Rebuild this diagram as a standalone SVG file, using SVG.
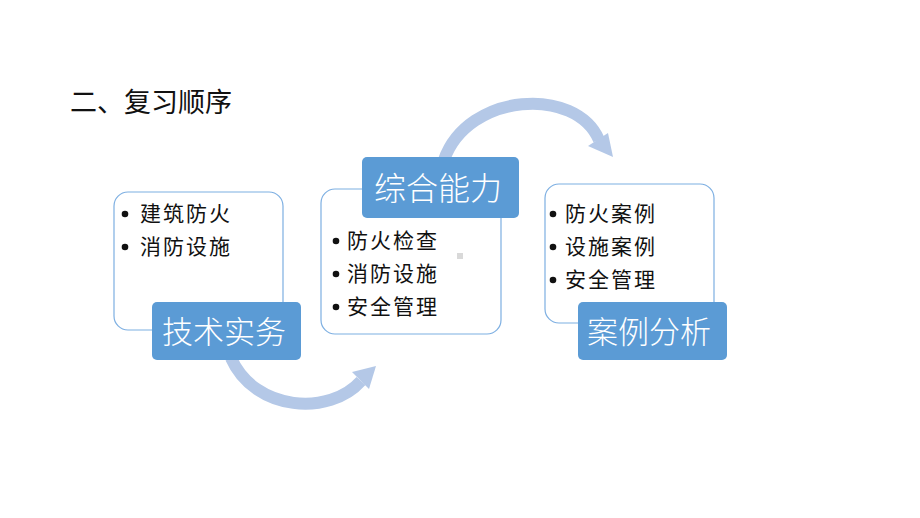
<svg xmlns="http://www.w3.org/2000/svg" width="920" height="518" viewBox="0 0 920 518">
<style>
.box{fill:#fff;stroke:#7dafe2;stroke-width:1.2}
.lab{fill:#5b9bd5}
.lt{font-family:"Noto Sans CJK SC","Noto Sans",sans-serif;font-size:31px;fill:#fff;font-weight:300}
.bt{font-family:"Noto Sans CJK SC","Noto Sans",sans-serif;font-size:21px;fill:#111;letter-spacing:2px}
.dot{fill:#111}
.arc{fill:none;stroke:#b4c8e7;stroke-width:12}
.head{fill:#b4c8e7}
</style>
<rect width="920" height="518" fill="#fff"/>
<text x="70" y="112" font-family="'Noto Sans CJK SC','Noto Sans',sans-serif" font-size="27" fill="#111">二、复习顺序</text>
<g id="connectors">
<path class="arc" d="M231,358 C255,412 330,416 361,381"/>
<polygon class="head" points="376,366 352,372 369,389"/>
<path class="arc" d="M444,160 C468,92 576,86 599,140"/>
<polygon class="head" points="613,157 588,146 608,133"/>
</g>
<g id="node1">
<rect class="box" x="114" y="192" width="169" height="138" rx="14"/>
<circle class="dot" cx="125" cy="214" r="3.3"/><text class="bt" x="140" y="221">建筑防火</text>
<circle class="dot" cx="125" cy="247" r="3.3"/><text class="bt" x="140" y="254">消防设施</text>
<rect class="lab" x="152" y="302" width="149" height="58" rx="5"/>
<text class="lt" x="162" y="343">技术实务</text>
</g>
<g id="node2">
<rect class="box" x="321" y="189" width="180" height="145" rx="14"/>
<rect class="lab" x="362" y="157" width="157" height="61" rx="5"/>
<text class="lt" x="374" y="200" style="font-size:32px">综合能力</text>
<circle class="dot" cx="336" cy="241" r="3.3"/><text class="bt" x="347" y="248">防火检查</text>
<circle class="dot" cx="336" cy="274" r="3.3"/><text class="bt" x="347" y="281">消防设施</text>
<circle class="dot" cx="336" cy="307" r="3.3"/><text class="bt" x="347" y="314">安全管理</text>
<rect x="457" y="253" width="6" height="6" fill="#d9d9d9"/>
</g>
<g id="node3">
<rect class="box" x="545" y="184" width="169" height="139" rx="14"/>
<circle class="dot" cx="553" cy="214" r="3.3"/><text class="bt" x="565" y="221">防火案例</text>
<circle class="dot" cx="553" cy="247" r="3.3"/><text class="bt" x="565" y="254">设施案例</text>
<circle class="dot" cx="553" cy="280" r="3.3"/><text class="bt" x="565" y="287">安全管理</text>
<rect class="lab" x="578" y="302" width="149" height="58" rx="5"/>
<text class="lt" x="587" y="343">案例分析</text>
</g>
</svg>
